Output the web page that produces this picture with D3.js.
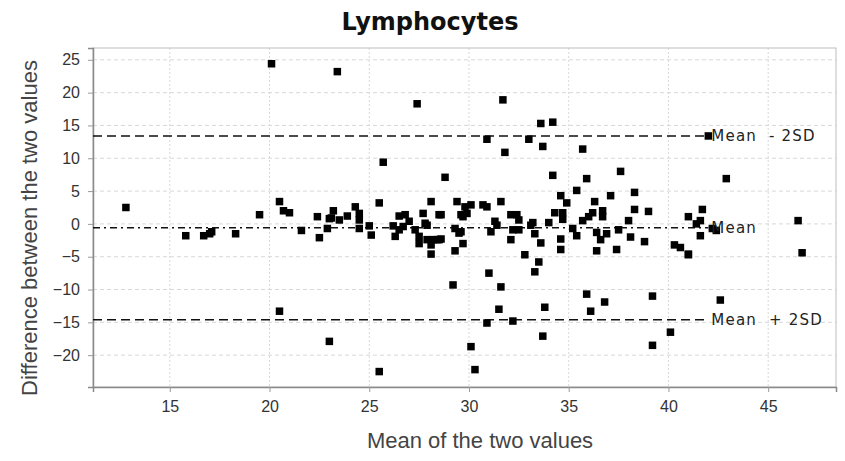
<!DOCTYPE html>
<html>
<head>
<meta charset="utf-8">
<script src="https://cdn.jsdelivr.net/npm/d3@7"></script>
<style>
  body { margin: 0; background: #fff; }
  svg text { font-family: "DejaVu Sans", sans-serif; }
</style>
</head>
<body>
<div id="my_dataviz"></div>
<script>
// Tick values
const xTicks = [15, 20, 25, 30, 35, 40, 45];
const yTicks = [-20, -15, -10, -5, 0, 5, 10, 15, 20, 25];

// Mean of the two values (x) and their difference (y)
const meanValues = [
  12.8, 15.8, 16.7, 17.1, 17.0, 18.3, 19.5, 20.1, 20.5, 20.7, 21.0, 20.5, 21.6, 22.4, 22.5, 22.9,
  23.1, 23.2, 23.0, 23.4, 23.5, 23.9, 24.3, 24.5, 24.5, 24.5, 25.0, 25.1, 25.5, 25.7, 26.2, 26.3,
  26.5, 26.5, 26.8, 27.0, 26.7, 27.3, 27.5, 27.5, 27.4, 27.7, 27.8, 27.9, 28.1, 28.1, 28.4, 28.1,
  28.5, 28.6, 28.8, 28.2, 28.5, 29.3, 29.5, 29.4, 29.6, 29.7, 29.8, 30.1, 29.9, 29.7, 29.3, 29.2,
  29.6, 30.7, 30.9, 31.1, 31.3, 31.6, 31.7, 30.9, 31.8, 32.1, 32.4, 32.5, 32.2, 32.1, 32.8, 31.0,
  31.6, 31.5, 30.9, 32.2, 30.1, 30.3, 25.5, 23.0, 33.0, 33.2, 33.3, 33.6, 33.5, 33.3, 33.1, 33.7,
  33.8, 33.7, 33.6, 34.0, 34.2, 34.2, 34.3, 34.7, 34.7, 34.6, 34.6, 34.6, 34.9, 35.4, 35.9, 35.7,
  35.2, 35.4, 35.7, 36.0, 36.2, 36.3, 36.7, 36.7, 36.4, 36.6, 36.9, 36.4, 37.1, 37.4, 37.5, 37.6,
  38.0, 38.3, 38.3, 38.1, 38.8, 39.0, 35.9, 36.8, 36.1, 39.2, 39.2, 40.1, 40.3, 40.6, 41.0, 41.0,
  41.0, 41.7, 41.4, 41.6, 41.6, 42.2, 42.4, 42.0, 42.9, 42.6, 46.5, 46.7, 28.6, 31.4, 27.9, 32.5
];
const diffValues = [
  2.5, -1.8, -1.8, -1.2, -1.5, -1.5, 1.4, 24.4, 3.4, 2.0, 1.7, -13.3, -1.0, 1.1, -2.1, -0.7,
  0.9, 2.0, 0.8, 23.2, 0.6, 1.2, 2.6, 1.6, 0.6, -0.7, -0.3, -1.7, 3.2, 9.4, -0.3, -1.9,
  -0.9, 1.2, 1.4, 0.4, -0.4, -0.9, -1.9, -3.0, 18.3, 1.6, 0.1, -2.4, -3.2, 3.4, -2.4, -4.6,
  1.4, -2.3, 7.1, -2.4, -2.4, -0.7, -1.4, 3.4, 1.4, -3.0, 2.6, 2.9, 1.6, 1.1, -4.1, -9.3,
  -1.2, 2.9, 2.6, -1.2, 0.4, 3.4, 18.9, 12.9, 10.9, 1.4, 1.4, 0.6, -0.9, -2.4, -4.7, -7.5,
  -9.6, -13.0, -15.1, -14.8, -18.7, -22.2, -22.5, -17.9, 12.9, 0.2, -1.5, -2.9, -5.8, -7.3, -0.2, 11.8,
  -12.7, -17.1, 15.3, 0.2, 15.5, 7.4, 1.7, 0.7, 1.7, 4.3, -2.3, -3.9, 3.2, 5.1, 6.9, 11.4,
  -0.7, -1.8, 0.5, 1.1, 1.7, 3.4, 2.0, 1.1, -1.3, -2.4, -1.5, -4.1, 4.3, -3.9, -0.9, 8.0,
  0.5, 4.8, 2.2, -2.0, -2.7, 1.9, -10.7, -11.9, -13.3, -11.0, -18.5, -16.5, -3.2, -3.6, -4.7, 1.1,
  -4.6, 2.2, 0.0, 0.5, -1.8, -0.7, -1.0, 13.4, 6.9, -11.6, 0.5, -4.4, 1.4, -0.2, -0.2, -0.9
];

// Bias and limits of agreement (labels as printed on the chart)
const refNames = ["Mean  - 2SD", "Mean", "Mean  + 2SD"];
const refValues = [13.4, -0.6, -14.6];
const refDash = ["9,5", "7,4,2,4", "9,5"];

const margin = { top: 48, right: 9, bottom: 74, left: 93 };
const width = 845 - margin.left - margin.right;
const height = 461 - margin.top - margin.bottom;

const svgRoot = d3.select("#my_dataviz")
  .append("svg")
    .attr("width", 845)
    .attr("height", 461);

const svg = svgRoot.append("g")
    .attr("transform", `translate(${margin.left},${margin.top})`);

const x = d3.scaleLinear().domain([11.15, 48.4]).range([0, width]);
const y = d3.scaleLinear().domain([-24.85, 26.8]).range([height, 0]);

// Grid lines
svg.append("g")
  .selectAll("line")
  .data(xTicks)
  .join("line")
    .attr("x1", d => x(d)).attr("x2", d => x(d))
    .attr("y1", 0).attr("y2", height)
    .attr("stroke", "#d8d8d8")
    .attr("stroke-dasharray", "2,2");
svg.append("g")
  .selectAll("line")
  .data(yTicks)
  .join("line")
    .attr("x1", 0).attr("x2", width)
    .attr("y1", d => y(d)).attr("y2", d => y(d))
    .attr("stroke", "#d8d8d8")
    .attr("stroke-dasharray", "4,3");

// Plot frame
svg.append("rect")
    .attr("width", width)
    .attr("height", height)
    .attr("fill", "none")
    .attr("stroke", "#bdbdbd");

// Axes
const xAxis = svg.append("g")
    .attr("transform", `translate(0, ${height})`)
    .call(d3.axisBottom(x).tickValues(xTicks).tickSize(5).tickPadding(9));
const yAxis = svg.append("g")
    .call(d3.axisLeft(y).tickValues(yTicks).tickSize(5).tickPadding(8));

[xAxis, yAxis].forEach(a => {
  a.select(".domain").attr("stroke", "#8a8a8a").attr("stroke-width", 1.5);
  a.selectAll(".tick line").attr("stroke", "#9a9a9a");
  a.selectAll(".tick text")
    .attr("fill", "#333")
    .style("font-size", "16px")
    .style("font-family", "'Liberation Sans', Arial, sans-serif");
});

// Reference lines
svg.append("g")
  .selectAll("line")
  .data(refValues)
  .join("line")
    .attr("x1", 0)
    .attr("x2", x(42.0))
    .attr("y1", d => y(d)).attr("y2", d => y(d))
    .attr("stroke", "#111")
    .attr("stroke-width", 1.5)
    .attr("stroke-dasharray", (d, i) => refDash[i]);

// Points
svg.append("g")
  .selectAll("rect")
  .data(meanValues.map((m, i) => ({ m: m, d: diffValues[i] })))
  .join("rect")
    .attr("x", d => x(d.m) - 3.75)
    .attr("y", d => y(d.d) - 3.75)
    .attr("width", 7.5)
    .attr("height", 7.5)
    .attr("fill", "#000");

// Reference line labels
svg.append("g")
  .selectAll("text")
  .data(refNames)
  .join("text")
    .attr("x", x(42.0) + 3)
    .attr("y", (d, i) => y(refValues[i]))
    .attr("dy", "0.35em")
    .attr("fill", "#222")
    .style("font-size", "15px")
    .style("letter-spacing", "1.2px")
    .style("white-space", "pre")
    .text(d => d);

// Title and axis labels
svgRoot.append("text")
    .attr("x", 430)
    .attr("y", 30)
    .attr("text-anchor", "middle")
    .style("font-size", "24px")
    .style("font-weight", "bold")
    .attr("fill", "#111")
    .text("Lymphocytes");

svgRoot.append("text")
    .attr("x", 480)
    .attr("y", 448)
    .attr("text-anchor", "middle")
    .attr("fill", "#444")
    .style("font-size", "22px")
    .style("font-family", "'Liberation Sans', Arial, sans-serif")
    .text("Mean of the two values");

svgRoot.append("text")
    .attr("transform", "rotate(-90)")
    .attr("x", -228)
    .attr("y", 37)
    .attr("text-anchor", "middle")
    .attr("fill", "#444")
    .style("font-size", "22px")
    .style("font-family", "'Liberation Sans', Arial, sans-serif")
    .text("Difference between the two values");
</script>
</body>
</html>
